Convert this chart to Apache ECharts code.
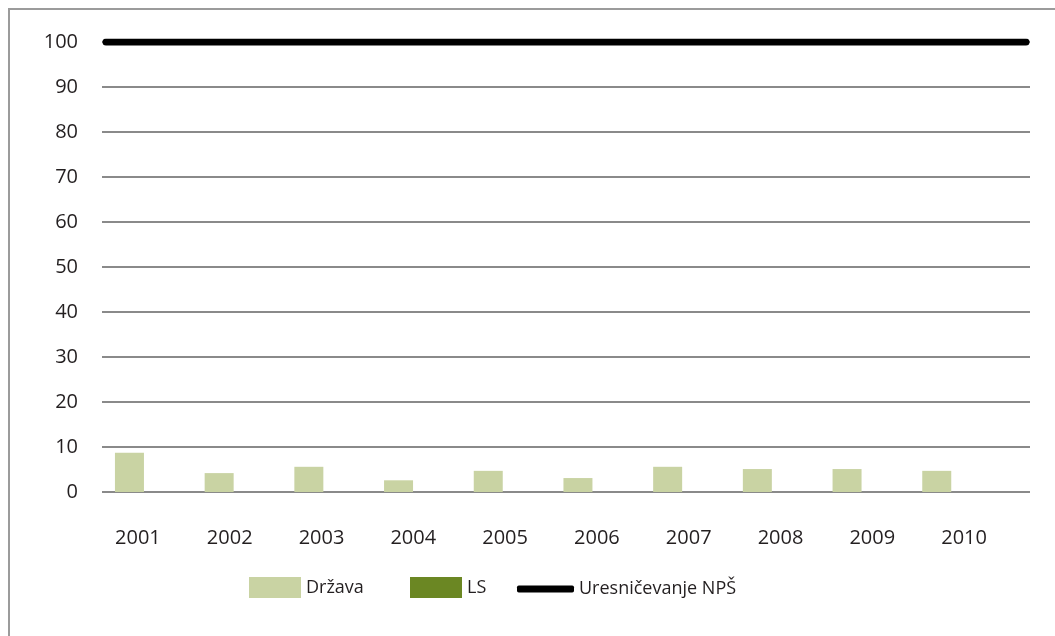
<!DOCTYPE html>
<html>
<head>
<meta charset="utf-8">
<script src="https://cdn.jsdelivr.net/npm/echarts@6/dist/echarts.min.js"></script>
<style>
  html, body { margin: 0; padding: 0; background: #fff; }
  #chart { width: 1055px; height: 636px; }
</style>
</head>
<body>
<div id="chart"></div>
<script>
// podatki
var years = ['2001', '2002', '2003', '2004', '2005', '2006', '2007', '2008', '2009', '2010'];
var drzava = [8.7, 4.2, 5.6, 2.6, 4.7, 3.1, 5.6, 5.1, 5.1, 4.7];
var ls = [0, 0, 0, 0, 0, 0, 0, 0, 0, 0];
var nps = [100, 100, 100, 100, 100, 100, 100, 100, 100, 100];
var yTicks = { min: 0, max: 100, interval: 10 };

var textColor = '#231f20';
var font = '"Open Sans", sans-serif';

var myChart = echarts.init(document.getElementById('chart'));

function hiddenY(idx) {
    return {
        type: 'value', gridIndex: idx, min: yTicks.min, max: yTicks.max, interval: yTicks.interval,
        show: false, splitLine: { show: false }
    };
}

function legendItem(name, left, extra) {
    var l = {
        data: [name], left: left, top: 577, padding: 0,
        itemWidth: 52, itemHeight: 21, itemGap: 5, icon: 'rect',
        textStyle: { fontFamily: font, fontSize: 18, color: textColor }
    };
    return Object.assign(l, extra || {});
}

myChart.setOption({
    animation: false,
    graphic: [{
        type: 'rect',
        shape: { x: 9, y: 9, width: 1100, height: 700 },
        style: { fill: 'none', stroke: '#9b9b9b', lineWidth: 2 },
        silent: true
    }],
    legend: [
        legendItem('Država', 249),
        legendItem('LS', 410),
        // debela črta z zaobljenimi konci
        legendItem('Uresničevanje NPŠ', 517, { icon: 'roundRect', itemWidth: 57, itemHeight: 7, top: 580 })
    ],
    grid: [
        { left: 102, right: 25, top: 42, bottom: 144 },
        { left: 102, right: 56, top: 42, bottom: 144 },
        { left: 92, right: 45, top: 42, bottom: 144 },
        { left: 106, right: 29, top: 42, bottom: 144 }
    ],
    xAxis: [
        { type: 'category', gridIndex: 0, data: years, show: false },
        // os za stolpce
        { type: 'category', gridIndex: 1, data: years, show: false },
        // os z oznakami let
        {
            type: 'category', gridIndex: 2, data: years,
            axisLine: { show: false }, axisTick: { show: false },
            axisLabel: { margin: 36, fontFamily: font, fontSize: 20, color: textColor }
        },
        // os za črto
        { type: 'category', gridIndex: 3, data: years, boundaryGap: false, show: false }
    ],
    yAxis: [
        {
            type: 'value', gridIndex: 0, min: yTicks.min, max: yTicks.max, interval: yTicks.interval,
            axisLine: { show: false }, axisTick: { show: false },
            axisLabel: { margin: 24, fontFamily: font, fontSize: 20, color: textColor },
            splitLine: { lineStyle: { color: '#8a8a8a', width: 2 } }
        },
        hiddenY(1),
        hiddenY(2),
        hiddenY(3)
    ],
    series: [
        {
            name: 'Država', type: 'bar', xAxisIndex: 1, yAxisIndex: 1,
            data: drzava, barWidth: 29, barGap: '20%',
            itemStyle: { color: '#c9d3a3' }
        },
        {
            name: 'LS', type: 'bar', xAxisIndex: 1, yAxisIndex: 1,
            data: ls, barWidth: 29,
            itemStyle: { color: '#6b8723' }
        },
        {
            name: 'Uresničevanje NPŠ', type: 'line', xAxisIndex: 3, yAxisIndex: 3,
            data: nps, symbol: 'none', z: 5,
            lineStyle: { color: '#000', width: 7, cap: 'round' },
            itemStyle: { color: '#000' }
        }
    ]
});
</script>
</body>
</html>
